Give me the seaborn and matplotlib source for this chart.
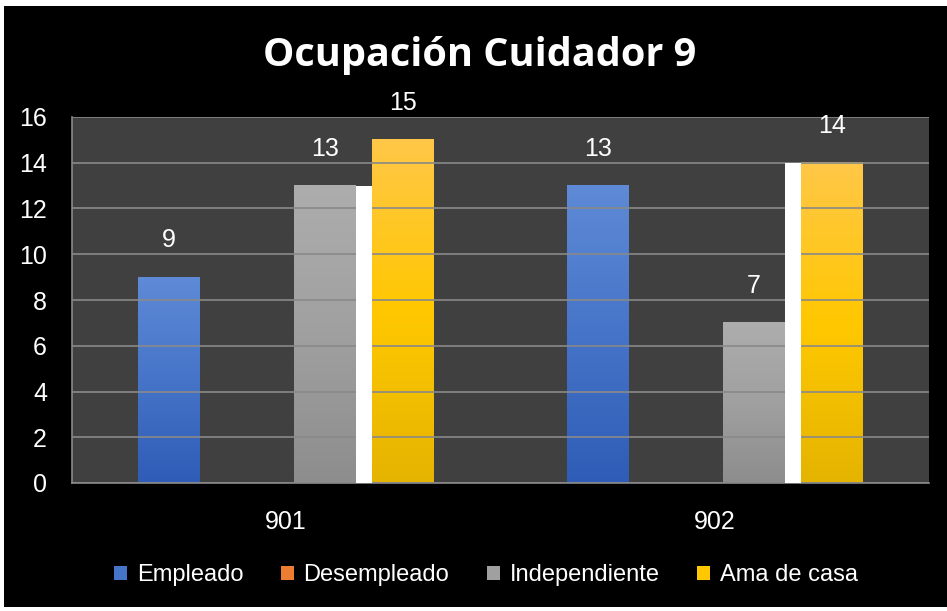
import numpy as np
import pandas as pd
import matplotlib
matplotlib.use("Agg")
import matplotlib.pyplot as plt
import seaborn as sns
from matplotlib.patches import Rectangle, Patch
from matplotlib.colors import LinearSegmentedColormap

# ---- data ----
categories = ["901", "902"]
series = ["Empleado", "Desempleado", "Independiente", "Ama de casa"]
empleado = [9, 13]
desempleado = [0, 0]
independiente = [13, 7]
ama_de_casa = [15, 14]
white_strip = [13, 14]          # white artifact strips between Independiente and Ama de casa
y_ticks = [0, 2, 4, 6, 8, 10, 12, 14, 16]
title = "Ocupación Cuidador 9"

df = pd.DataFrame({
    "grupo": categories * 4,
    "serie": [s for s in series for _ in categories],
    "valor": empleado + desempleado + independiente + ama_de_casa,
})

# top, middle, bottom colours of each bar gradient
grad = {
    "Empleado": ["#5E8AD6", "#4674C8", "#2F5CB6"],
    "Desempleado": ["#F4914E", "#ED7D31", "#D86A20"],
    "Independiente": ["#ADADAD", "#A0A0A0", "#8D8D8D"],
    "Ama de casa": ["#FFC748", "#FFC800", "#E5B400"],
}
mid = {s: grad[s][1] for s in series}

plt.rcParams["font.family"] = ["Liberation Sans", "DejaVu Sans"]

W, H = 947, 611
fig = plt.figure(figsize=(W / 100, H / 100), dpi=100, facecolor="white")
fig.patches.append(Rectangle((4 / W, 4 / H), (W - 4) / W, (H - 10) / H,
                             transform=fig.transFigure, facecolor="black",
                             edgecolor="none", zorder=-10))

ax = fig.add_axes([72 / W, (H - 483) / H, (929 - 72) / W, (483 - 117) / H])
ax.set_facecolor("#404040")

sns.barplot(data=df, x="grupo", y="valor", hue="serie", order=categories,
            hue_order=series, palette=mid, width=0.728, gap=0.205,
            saturation=1, errorbar=None, legend=False, linewidth=0,
            ax=ax, zorder=1)

bars = sorted([p for p in ax.patches], key=lambda p: p.get_x())

for i, p in enumerate(bars):
    s = series[i % 4]
    h = p.get_height()
    if h <= 0:
        continue
    x0, w = p.get_x(), p.get_width()
    cmap = LinearSegmentedColormap.from_list(s, grad[s][::-1])
    ax.imshow(np.linspace(0, 1, 256).reshape(-1, 1), cmap=cmap,
              extent=[x0, x0 + w, 0, h], origin="lower", aspect="auto",
              zorder=1.2, interpolation="bilinear")
    ax.annotate(f"{int(h)}", (x0 + w / 2, h), xytext=(0, 26.5),
                textcoords="offset points", ha="center", va="center",
                color="white", fontsize=18, annotation_clip=False, zorder=5)

# white strips between Independiente and Ama de casa
for c in range(len(categories)):
    pi, pa = bars[c * 4 + 2], bars[c * 4 + 3]
    xl = pi.get_x() + pi.get_width()
    ax.bar(xl, white_strip[c], width=pa.get_x() - xl, align="edge",
           color="white", linewidth=0, zorder=3)

ax.set_xlim(-0.5, 1.5)
ax.set_ylim(0, 16)
ax.set_yticks(y_ticks)
ax.set_xlabel("")
ax.set_ylabel("")
ax.set_axisbelow(False)
ax.yaxis.grid(True, color="#898989", linewidth=1.2)
ax.xaxis.grid(False)
ax.tick_params(axis="y", colors="white", labelsize=18, length=0, pad=18)
ax.tick_params(axis="x", colors="white", labelsize=18, length=0, pad=19.5)
for sp in ["top", "right"]:
    ax.spines[sp].set_visible(False)
for sp in ["left", "bottom"]:
    ax.spines[sp].set_color("#898989")
    ax.spines[sp].set_linewidth(1.2)

handles = [Patch(facecolor=mid[s], edgecolor="none", label=s) for s in series]
fig.legend(handles=handles, loc="center", bbox_to_anchor=(486 / W, 1 - 575 / H),
           ncol=4, frameon=False, fontsize=17, labelcolor="white",
           handlelength=0.55, handleheight=0.55, handletextpad=0.4,
           columnspacing=1.6)

fig.text(479.5 / W, 1 - 66 / H, title, ha="center", va="baseline",
         fontsize=28.5, fontweight="bold", family=["Open Sans", "DejaVu Sans"],
         color="white")

fig.savefig("out.png", dpi=100, facecolor="white")
